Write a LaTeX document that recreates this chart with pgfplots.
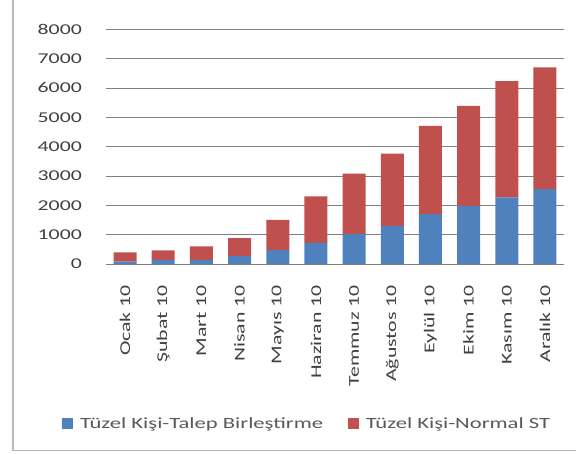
\documentclass[border=0pt]{standalone}
\usepackage{pgfplots}
\pgfplotsset{compat=1.18}
\usepackage{fontspec}
\setmainfont{Carlito}[FakeStretch=1.45]
\definecolor{exblue}{HTML}{4F81BD}
\definecolor{exred}{HTML}{C0504D}
\begin{document}
\begin{tikzpicture}
\path[use as bounding box] (-106bp,-190bp) rectangle (470bp,264bp);
\draw[color=black!28, line width=1.5bp] (-93bp,264bp) -- (-93bp,-186.7bp) -- (470bp,-186.7bp);
\begin{axis}[
  scale only axis, width=458bp, height=234.7bp,
  ybar stacked, bar width=23bp,
  xmin=-0.5, xmax=11.5, ymin=0, ymax=8000,
  xtick={0,...,11},
  xticklabels={Ocak 10,Şubat 10,Mart 10,Nisan 10,Mayıs 10,Haziran 10,Temmuz 10,Ağustos 10,Eylül 10,Ekim 10,Kasım 10,Aralık 10},
  ytick={0,1000,...,8000},
  ymajorgrids, grid style={color=black!50, line width=0.9bp},
  axis line style={draw=none}, major tick length=0pt,
  /pgf/number format/1000 sep={}, /pgf/number format/assume math mode=true,
  ticklabel style={font=\fontsize{15bp}{18bp}\selectfont, text=black!75},
  yticklabel style={inner sep=0pt, anchor=east, xshift=-24bp},
  xticklabel style={inner sep=0pt, rotate=90, anchor=east},
  xticklabel shift=21bp,
  legend style={draw=none, fill=none, inner sep=0pt, outer sep=0pt,
    at={(axis description cs:-0.0954,-0.6796)}, anchor=west,
    font=\fontsize{15.6bp}{18bp}\selectfont, text=black!65,
    /tikz/every odd column/.append style={column sep=6.7bp},
    /tikz/every even column/.append style={column sep=25bp},
    nodes={inner sep=0pt}},
  legend columns=2,
  legend image code/.code={\fill[#1] (0bp,-5.5bp) rectangle (11bp,5.5bp);},
]
\addplot[fill=exblue, draw=none] coordinates {
(0,80) (1,140) (2,140) (3,280) (4,475) (5,716) (6,1020) (7,1300) (8,1700) (9,1985) (10,2270) (11,2555)};
\addplot[fill=exred, draw=none] coordinates {
(0,320) (1,322) (2,465) (3,600) (4,1025) (5,1591) (6,2060) (7,2460) (8,3010) (9,3405) (10,3960) (11,4145)};
\legend{Tüzel Kişi-Talep Birleştirme, Tüzel Kişi-Normal ST}
\end{axis}
\end{tikzpicture}
\end{document}
